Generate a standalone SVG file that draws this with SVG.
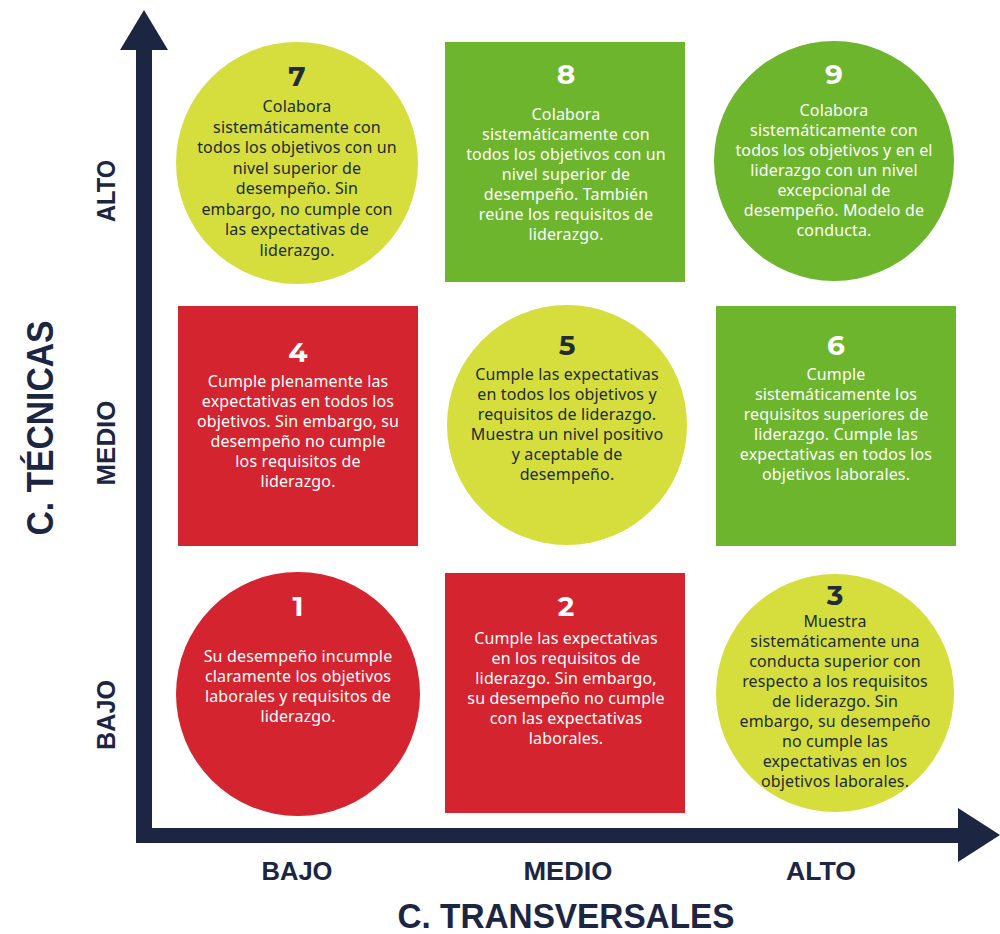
<svg xmlns="http://www.w3.org/2000/svg" width="1000" height="934" viewBox="0 0 1000 934">
<style>
.red{fill:#d3242f}.yel{fill:#d5de3c}.grn{fill:#6db52c}
.num{font-family:"Montserrat","Noto Sans","Open Sans",sans-serif;font-weight:700;font-size:28px;text-anchor:middle}
.txt{font-family:"Noto Sans","Open Sans",sans-serif;font-size:16px;letter-spacing:0.15px;text-anchor:middle}
.dk{fill:#222b36}.wh{fill:#ffffff}
.ax{font-family:"Liberation Sans","Arial",sans-serif;font-weight:700;fill:#1c2541;text-anchor:middle}
</style>
<rect width="1000" height="934" fill="#ffffff"/>
<g id="axes">
<rect x="136" y="46" width="16" height="797" fill="#1c2541"/>
<polygon points="144,10 120,50 168,50" fill="#1c2541"/>
<rect x="136" y="828" width="828" height="15" fill="#1c2541"/>
<polygon points="1000,835 958,808 958,862" fill="#1c2541"/>
</g>
<g id="node7">
<circle cx="297" cy="163" r="121" class="yel"/>
<text x="297" y="86" class="num dk">7</text>
<text class="txt dk"><tspan x="297" y="112">Colabora</tspan><tspan x="297" y="132.5">sistemáticamente con</tspan><tspan x="297" y="153">todos los objetivos con un</tspan><tspan x="297" y="173.5">nivel superior de</tspan><tspan x="297" y="194">desempeño. Sin</tspan><tspan x="297" y="214.5">embargo, no cumple con</tspan><tspan x="297" y="235">las expectativas de</tspan><tspan x="297" y="255.5">liderazgo.</tspan></text>
</g>
<g id="node8">
<rect x="445" y="42" width="240" height="240" class="grn"/>
<text x="566" y="84" class="num wh">8</text>
<text class="txt wh"><tspan x="566" y="120">Colabora</tspan><tspan x="566" y="140">sistemáticamente con</tspan><tspan x="566" y="160">todos los objetivos con un</tspan><tspan x="566" y="180">nivel superior de</tspan><tspan x="566" y="200">desempeño.  También</tspan><tspan x="566" y="220">reúne los requisitos de</tspan><tspan x="566" y="240">liderazgo.</tspan></text>
</g>
<g id="node9">
<circle cx="834" cy="161" r="120" class="grn"/>
<text x="834" y="84" class="num wh">9</text>
<text class="txt wh"><tspan x="834" y="116">Colabora</tspan><tspan x="834" y="136">sistemáticamente con</tspan><tspan x="834" y="156">todos los objetivos  y en el</tspan><tspan x="834" y="176">liderazgo  con un nivel</tspan><tspan x="834" y="196">excepcional de</tspan><tspan x="834" y="216">desempeño. Modelo de</tspan><tspan x="834" y="236">conducta.</tspan></text>
</g>
<g id="node4">
<rect x="178" y="306" width="240" height="240" class="red"/>
<text x="298" y="362" class="num wh">4</text>
<text class="txt wh"><tspan x="298" y="387">Cumple plenamente las</tspan><tspan x="298" y="407">expectativas en todos los</tspan><tspan x="298" y="427">objetivos. Sin embargo, su</tspan><tspan x="298" y="447">desempeño no cumple</tspan><tspan x="298" y="467">los requisitos de</tspan><tspan x="298" y="487">liderazgo.</tspan></text>
</g>
<g id="node5">
<circle cx="567" cy="425" r="120" class="yel"/>
<text x="567" y="355" class="num dk">5</text>
<text class="txt dk"><tspan x="567" y="380">Cumple las expectativas</tspan><tspan x="567" y="400">en todos los objetivos y</tspan><tspan x="567" y="420">requisitos de liderazgo.</tspan><tspan x="567" y="440">Muestra un nivel positivo</tspan><tspan x="567" y="460">y aceptable de</tspan><tspan x="567" y="480">desempeño.</tspan></text>
</g>
<g id="node6">
<rect x="716" y="306" width="240" height="240" class="grn"/>
<text x="836" y="355" class="num wh">6</text>
<text class="txt wh"><tspan x="836" y="380">Cumple</tspan><tspan x="836" y="400">sistemáticamente los</tspan><tspan x="836" y="420">requisitos superiores de</tspan><tspan x="836" y="440">liderazgo. Cumple las</tspan><tspan x="836" y="460">expectativas en todos los</tspan><tspan x="836" y="480">objetivos laborales.</tspan></text>
</g>
<g id="node1">
<circle cx="298" cy="694" r="122" class="red"/>
<text x="298" y="616" class="num wh">1</text>
<text class="txt wh"><tspan x="298" y="662">Su desempeño incumple</tspan><tspan x="298" y="682">claramente los objetivos</tspan><tspan x="298" y="702">laborales y requisitos de</tspan><tspan x="298" y="722">liderazgo.</tspan></text>
</g>
<g id="node2">
<rect x="445" y="573" width="240" height="240" class="red"/>
<text x="566" y="616" class="num wh">2</text>
<text class="txt wh"><tspan x="566" y="644">Cumple las expectativas</tspan><tspan x="566" y="664">en los requisitos de</tspan><tspan x="566" y="684">liderazgo. Sin embargo,</tspan><tspan x="566" y="704">su desempeño no cumple</tspan><tspan x="566" y="724">con las expectativas</tspan><tspan x="566" y="744">laborales.</tspan></text>
</g>
<g id="node3">
<circle cx="835" cy="693" r="119" class="yel"/>
<text x="835" y="605" class="num dk" font-size="26">3</text>
<text class="txt dk" font-size="14.5" letter-spacing="0.45"><tspan x="835" y="627">Muestra</tspan><tspan x="835" y="647">sistemáticamente una</tspan><tspan x="835" y="667">conducta superior con</tspan><tspan x="835" y="687">respecto a los requisitos</tspan><tspan x="835" y="707">de liderazgo. Sin</tspan><tspan x="835" y="727">embargo, su desempeño</tspan><tspan x="835" y="747">no cumple las</tspan><tspan x="835" y="767">expectativas en los</tspan><tspan x="835" y="787">objetivos laborales.</tspan></text>
</g>
<g id="labels">
<text x="297" y="880" class="ax" font-size="26" textLength="71" lengthAdjust="spacingAndGlyphs">BAJO</text>
<text x="568" y="880" class="ax" font-size="26" textLength="89" lengthAdjust="spacingAndGlyphs">MEDIO</text>
<text x="821" y="880" class="ax" font-size="26" textLength="70" lengthAdjust="spacingAndGlyphs">ALTO</text>
<text x="566" y="928" class="ax" font-size="35" textLength="337" lengthAdjust="spacingAndGlyphs">C. TRANSVERSALES</text>
<text transform="translate(115,191) rotate(-90)" class="ax" font-size="26" textLength="62" lengthAdjust="spacingAndGlyphs">ALTO</text>
<text transform="translate(115,443) rotate(-90)" class="ax" font-size="26" textLength="85" lengthAdjust="spacingAndGlyphs">MEDIO</text>
<text transform="translate(115,715) rotate(-90)" class="ax" font-size="26" textLength="70" lengthAdjust="spacingAndGlyphs">BAJO</text>
<text transform="translate(53,428) rotate(-90)" class="ax" font-size="36" textLength="215" lengthAdjust="spacingAndGlyphs">C. TÉCNICAS</text>
</g>
</svg>
